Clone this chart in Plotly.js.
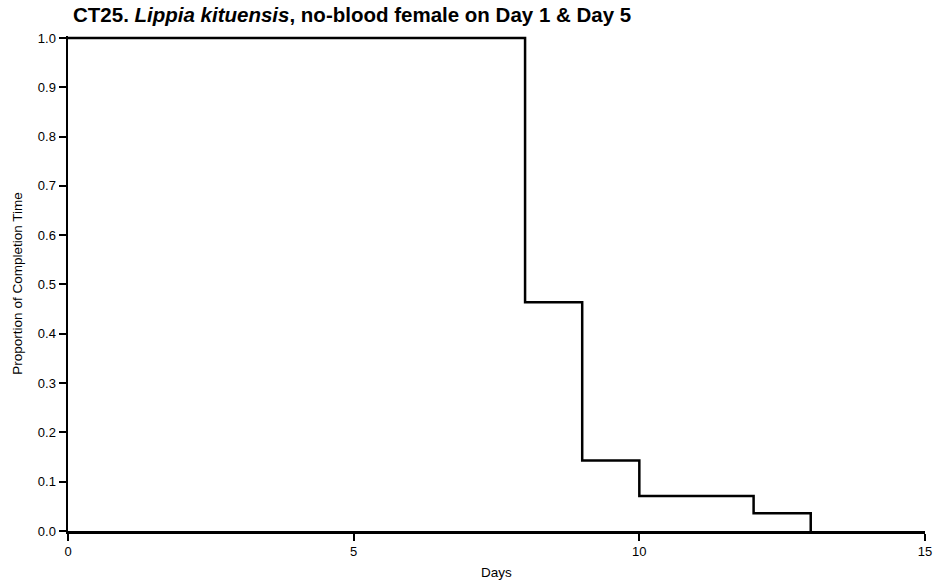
<!DOCTYPE html>
<html>
<head>
<meta charset="utf-8">
<script src="https://cdn.plot.ly/plotly-3.0.1.min.js"></script>
<style>html,body{margin:0;padding:0;background:#fff;}#chart{width:938px;height:588px;}</style>
</head>
<body>
<div id="chart"></div>
<script>
// Step data (Kaplan-Meier style)
const days = [0, 8, 9, 10, 12, 13];
const proportion = [1.0, 0.464, 0.143, 0.071, 0.036, 0.0];
const xTicks = [0, 5, 10, 15];
const yTicks = [0, 0.1, 0.2, 0.3, 0.4, 0.5, 0.6, 0.7, 0.8, 0.9, 1.0];

const trace = {
  x: days,
  y: proportion,
  type: 'scatter',
  mode: 'lines',
  line: {shape: 'hv', color: '#000', width: 2.5},
  hoverinfo: 'x+y',
  showlegend: false
};

const font = {family: 'Liberation Sans, Arial, sans-serif', color: '#000'};

const layout = {
  width: 938, height: 588,
  margin: {l: 68, r: 13, t: 36, b: 57},
  paper_bgcolor: '#fff', plot_bgcolor: '#fff',
  font: Object.assign({size: 12}, font),
  title: {
    text: 'CT25. <i>Lippia kituensis</i>, no-blood female on Day 1 &amp; Day 5',
    font: Object.assign({size: 20.5, weight: 'bold'}, font),
    xref: 'container', xanchor: 'left', y: 0.974, yanchor: 'middle'
  },
  xaxis: {
    range: [0, 15],
    tickvals: xTicks,
    ticktext: xTicks.map(String),
    ticks: 'outside', ticklen: 7, tickwidth: 2, tickcolor: '#000',
    showline: true, linecolor: '#000', linewidth: 2.5,
    showgrid: false, zeroline: false,
    tickfont: Object.assign({size: 13}, font),
    title: {text: 'Days', font: Object.assign({size: 13.5}, font), standoff: 10}
  },
  yaxis: {
    range: [0, 1.004],
    tickvals: yTicks,
    ticktext: yTicks.map(v => v.toFixed(1)),
    ticks: 'outside', ticklen: 7, tickwidth: 2, tickcolor: '#000',
    showline: true, linecolor: '#000', linewidth: 2.5,
    showgrid: false, zeroline: false,
    tickfont: Object.assign({size: 13}, font),
    title: {text: 'Proportion of Completion Time', font: Object.assign({size: 13.5}, font), standoff: 12}
  }
};
layout.title.x = 73 / 938;

Plotly.newPlot('chart', [trace], layout, {displayModeBar: false, staticPlot: true});
</script>
</body>
</html>
